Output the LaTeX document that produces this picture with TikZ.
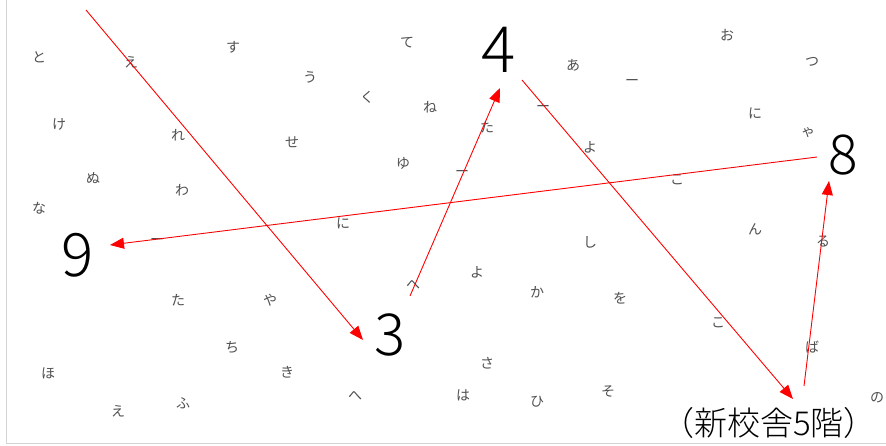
\documentclass[tikz,border=0pt]{standalone}
\usepackage{fontspec}
\setmainfont{Noto Sans CJK JP}
\newfontfamily\numfont{Noto Sans CJK JP}[UprightFont={* Light}]
\usetikzlibrary{arrows.meta}
\definecolor{kanagray}{HTML}{505050}
\definecolor{framegray}{HTML}{D4D4D4}
\tikzset{
  kana/.style={text=kanagray,font=\fontsize{14}{14}\selectfont,inner sep=0pt},
  bignum/.style={text=black,inner sep=0pt},
  redarrow/.style={draw=red,line width=0.9pt,-{Triangle[length=14pt,width=11pt]}},
}
\begin{document}
\begin{tikzpicture}[x=1pt,y=-1pt]
\useasboundingbox (0,0) rectangle (886,446);
\fill[white] (0,0) rectangle (886,446);
\draw[framegray,line width=1pt] (6.5,0) -- (6.5,443.5) -- (886,443.5);
% kana
\node[kana] (k1) at (39,57) {と};
\node[kana] (k2) at (131,62) {え};
\node[kana] (k3) at (233,47) {す};
\node[kana] (k4) at (59,124) {け};
\node[kana] (k5) at (178,135) {れ};
\node[kana] (k6) at (292,142) {せ};
\node[kana] (k7) at (407,43) {て};
\node[kana] (k8) at (310,77) {う};
\node[kana] (k9) at (367,97) {く};
\node[kana] (k10) at (430,107) {ね};
\node[kana] (k11) at (487,127) {た};
\node[kana] (k12) at (573,65) {あ};
\node[kana] (k13) at (543,108) {ー};
\node[kana] (k14) at (590,147) {よ};
\node[kana] (k15) at (727,35) {お};
\node[kana] (k16) at (812,62) {つ};
\node[kana] (k17) at (632,82) {ー};
\node[kana] (k18) at (755,113) {に};
\node[kana] (k19) at (808,133) {ゃ};
\node[kana] (k20) at (93,178) {ぬ};
\node[kana] (k21) at (182,190) {わ};
\node[kana] (k22) at (39,208) {な};
\node[kana] (k23) at (157,241) {ー};
\node[kana] (k24) at (178,300) {た};
\node[kana] (k25) at (270,300) {や};
\node[kana] (k26) at (403,163) {ゆ};
\node[kana] (k27) at (462,173) {ー};
\node[kana] (k28) at (343,223) {に};
\node[kana] (k29) at (590,242) {し};
\node[kana] (k30) at (477,272) {よ};
\node[kana] (k31) at (413,285) {へ};
\node[kana] (k32) at (537,292) {か};
\node[kana] (k33) at (677,180) {こ};
\node[kana] (k34) at (755,229) {ん};
\node[kana] (k35) at (823,242) {る};
\node[kana] (k36) at (620,298) {を};
\node[kana] (k37) at (232,347) {ち};
\node[kana] (k38) at (48,373) {ほ};
\node[kana] (k39) at (287,372) {き};
\node[kana] (k40) at (183,403) {ふ};
\node[kana] (k41) at (118,411) {え};
\node[kana] (k42) at (487,363) {さ};
\node[kana] (k43) at (355,396) {へ};
\node[kana] (k44) at (463,395) {は};
\node[kana] (k45) at (537,402) {ひ};
\node[kana] (k46) at (718,323) {こ};
\node[kana] (k47) at (812,347) {ば};
\node[kana] (k48) at (608,392) {そ};
\node[kana] (k49) at (877,398) {の};
% numbers
\node[bignum,font=\numfont\fontsize{64}{64}\selectfont] (n4) at (499,50) {4};
\node[bignum,font=\numfont\fontsize{60}{60}\selectfont] (n9) at (78,255) {9};
\node[bignum,font=\numfont\fontsize{58}{58}\selectfont] (n3) at (390,335) {3};
\node[bignum,font=\numfont\fontsize{55}{55}\selectfont] (n8) at (843,155) {8};
\node[bignum,font=\numfont\fontsize{33}{33}\selectfont] (loc) at (769,423) {（新校舎5階）};
% arrow ends
\coordinate (s1) at (86,10);
\coordinate (e1) at (363,340);
\coordinate (s2) at (410,296);
\coordinate (e2) at (500,88);
\coordinate (s3) at (522,80);
\coordinate (e3) at (793,399);
\coordinate (s4) at (804,386);
\coordinate (e4) at (829,181);
\coordinate (s5) at (817,157);
\coordinate (e5) at (110,245);
\draw[redarrow] (s1) -- (e1);
\draw[redarrow] (s2) -- (e2);
\draw[redarrow] (s3) -- (e3);
\draw[redarrow] (s4) -- (e4);
\draw[redarrow] (s5) -- (e5);
\end{tikzpicture}
\end{document}
